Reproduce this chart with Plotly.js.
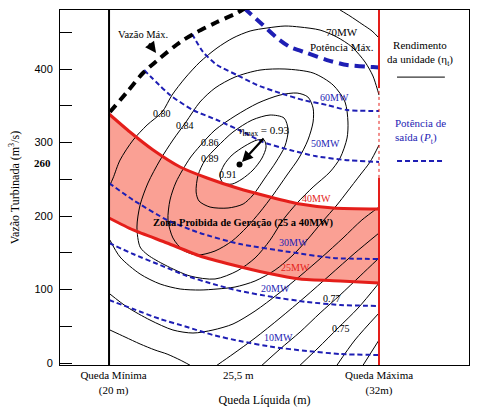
<!DOCTYPE html>
<html><head><meta charset="utf-8">
<script src="https://cdn.plot.ly/plotly-3.0.1.min.js"></script>
<style>html,body{margin:0;padding:0;background:#fff}#chart{width:480px;height:414px}</style>
</head><body><div id="chart"></div>
<script>
// ---- operating limits (head, m) ----
var headLimits = [20, 32];
var headTickVals = [20.2, 25.75, 32];
var headTickText = ['Queda Mínima<br>(20 m)', '25,5 m', 'Queda Máxima<br>(32m)'];
var flowTickVals = [0, 100, 200, 300, 400];
var flowTickText = ['0', '100', '200', '300', '400'];

// ---- maximum flow curve ----
var vmaxX = [20.04, 20.80, 21.51, 22.27, 23.16, 23.91, 24.80, 25.69, 26.0];
var vmaxY = [341.5, 368.7, 394.6, 415.0, 436.7, 450.3, 463.9, 476.2, 482.0];

// ---- output power curves (MW) ----
var p70X = [26.0, 26.84, 27.47, 28.04, 28.80, 29.69, 30.58, 31.73, 32.0];
var p70Y = [483.0, 459.9, 442.2, 429.9, 421.8, 412.2, 405.4, 402.7, 402.0];
var p60X = [23.69, 24.18, 24.80, 25.69, 26.58, 27.60, 28.62, 29.69, 30.58, 32.0];
var p60Y = [447.6, 423.1, 405.4, 391.8, 378.2, 367.3, 357.8, 351.0, 344.2, 342.9];
var p50X = [21.56, 22.71, 23.73, 24.80, 25.96, 26.84, 28.04, 29.16, 30.49, 32.0];
var p50Y = [398.6, 364.6, 344.2, 330.6, 314.3, 300.7, 289.8, 281.6, 276.2, 273.5];
var p40X = [20.0, 20.93, 21.96, 23.16, 24.36, 25.69, 27.16, 28.49, 29.96, 32.0];
var p40Y = [338.8, 314.3, 289.8, 266.7, 251.7, 238.1, 225.9, 216.3, 210.9, 209.5];
var p30X = [20.0, 21.07, 22.58, 24.04, 25.82, 28.04, 29.96, 32.0];
var p30Y = [244.9, 221.8, 194.6, 176.9, 161.9, 151.0, 142.9, 141.5];
var p25X = [20.0, 21.07, 22.58, 24.04, 25.51, 27.02, 28.49, 30.27, 32.0];
var p25Y = [197.3, 181.0, 163.3, 145.6, 133.3, 122.4, 114.3, 111.6, 108.8];
var p20X = [20.0, 21.07, 22.27, 23.47, 24.62, 25.82, 27.29, 28.80, 30.27, 32.0];
var p20Y = [163.3, 148.3, 133.3, 118.4, 107.5, 98.0, 89.8, 83.0, 78.9, 77.6];
var p10X = [20.0, 21.07, 22.27, 23.47, 24.62, 25.82, 27.29, 28.80, 30.27, 32.0];
var p10Y = [85.7, 73.5, 59.9, 49.0, 38.1, 29.9, 21.8, 16.3, 12.2, 10.9];

// ---- efficiency contours ----
var e91X = [25.07, 24.93, 25.11, 25.47, 26.04, 26.58, 26.89, 26.98, 26.80, 26.40, 25.91, 25.47, 25.07];
var e91Y = [244.9, 254.4, 269.4, 283.0, 295.3, 303.4, 303.4, 293.9, 278.9, 262.6, 250.3, 243.5, 244.9];
var e89X = [23.87, 23.96, 24.27, 24.80, 25.51, 26.36, 27.16, 27.78, 27.96, 27.82, 27.42, 26.93, 26.40, 25.96, 25.29, 24.49, 24.00, 23.87];
var e89Y = [232.7, 255.8, 276.2, 293.9, 314.3, 330.6, 337.4, 333.3, 317.0, 295.3, 273.5, 251.7, 228.6, 216.3, 210.9, 212.2, 220.4, 232.7];
var e86X = [23.60, 24.04, 24.71, 25.60, 26.62, 27.60, 28.36, 28.84, 29.07, 29.07, 28.84, 28.44, 27.91, 27.29, 26.71, 26.13, 25.47, 24.71, 23.91, 23.29, 22.84, 22.62, 22.71, 22.98, 23.60];
var e86Y = [278.9, 295.3, 317.0, 336.1, 353.7, 364.6, 367.3, 361.9, 346.9, 327.9, 303.4, 278.9, 255.8, 228.6, 205.4, 185.0, 166.0, 152.4, 146.9, 153.7, 170.1, 194.6, 221.8, 246.3, 278.9];
var e84X = [21.38, 21.24, 21.38, 21.73, 22.27, 22.84, 23.42, 24.04, 24.71, 25.60, 26.71, 27.82, 29.07, 29.96, 30.49, 30.62, 30.58, 30.27, 29.82, 29.07, 28.36, 27.73, 27.16, 26.49, 25.69, 24.71, 23.60, 22.49, 21.73, 21.38];
var e84Y = [157.8, 185.0, 215.0, 244.9, 276.2, 303.4, 327.9, 355.1, 374.1, 389.1, 398.6, 400.0, 394.6, 378.2, 355.1, 327.9, 306.1, 278.9, 259.9, 239.5, 217.7, 194.6, 167.3, 142.9, 125.2, 114.3, 118.4, 133.3, 146.9, 157.8];
var e80aX = [20.00, 20.18, 20.49, 21.07, 21.69, 22.36, 22.80, 23.38, 24.04, 24.80, 25.51, 26.27, 27.02, 27.82, 28.49, 29.38, 30.13, 30.80, 31.38, 31.73, 31.91, 32.0];
var e80aY = [239.5, 251.7, 276.2, 303.4, 323.8, 341.5, 364.6, 387.7, 409.5, 428.6, 442.2, 451.7, 455.8, 458.5, 457.1, 453.0, 443.5, 429.9, 409.5, 390.5, 374.1, 364.6];
var e80bX = [32.0, 31.60, 31.16, 30.58, 30.13, 29.47, 28.80, 28.13, 27.38, 26.49, 25.60, 24.80, 24.04, 23.16, 22.27, 21.38, 20.49, 20.04];
var e80bY = [296.6, 273.5, 255.8, 232.7, 215.0, 191.8, 167.3, 145.6, 126.5, 111.6, 103.4, 100.7, 99.3, 100.7, 107.5, 121.1, 144.2, 167.3];
var eU2X = [20.04, 20.80, 21.82, 22.84, 23.73, 24.62, 25.51, 26.49, 27.51, 28.49, 29.47, 30.40, 31.24, 32.0];
var eU2Y = [93.9, 76.2, 58.5, 44.9, 40.8, 44.9, 53.1, 70.7, 93.9, 118.4, 144.2, 170.1, 194.6, 212.2];
var eU3X = [20.04, 20.71, 21.38, 22.04, 22.58, 23.16, 23.60];
var eU3Y = [44.9, 35.4, 25.9, 17.7, 12.2, 4.1, -3];
var eU4X = [24.80, 25.51, 26.49, 27.60, 28.71, 29.82, 30.93, 32.0];
var eU4Y = [-3, 12.2, 34.0, 61.2, 89.8, 119.7, 149.7, 176.9];
var e77X = [26.80, 27.60, 28.49, 29.38, 30.27, 31.16, 32.0];
var e77Y = [-3, 19.0, 42.2, 68.0, 92.5, 118.4, 142.9];
var e75X = [28.49, 29.29, 30.18, 31.07, 32.0];
var e75Y = [-3, 20.4, 47.6, 74.8, 108.8];
var e73X = [30.13, 30.93, 32.0];
var e73Y = [-3, 31.3, 68.0];
var e71X = [31.29, 32.0];
var e71Y = [-3, 31.3];
var eTopX = [30.27, 30.71, 31.24, 31.69, 32.0];
var eTopY = [480.3, 472.1, 461.2, 451.7, 442.2];

// best efficiency point
var bepHead = [25.8];
var bepFlow = [270];

var BLUE = '#1e1eb4', RED = '#e41e1a', PINK = 'rgb(250,160,148)';
var SERIF = 'Liberation Serif, Times New Roman, serif';

var traces = [];
traces.push({x: p40X.concat(p25X.slice().reverse()), y: p40Y.concat(p25Y.slice().reverse()),
  mode: 'lines', fill: 'toself', fillcolor: PINK, line: {width: 0}, hoverinfo: 'skip'});

var contours = [[e91X,e91Y],[e89X,e89Y],[e86X,e86Y],[e84X,e84Y],[e80aX,e80aY],[e80bX,e80bY],
  [eU2X,eU2Y],[eU3X,eU3Y],[eU4X,eU4Y],[e77X,e77Y],[e75X,e75Y],[e73X,e73Y],[e71X,e71Y],[eTopX,eTopY]];
contours.forEach(function(c){
  traces.push({x: c[0], y: c[1], mode: 'lines', line: {color: '#000', width: 1, shape: 'spline', smoothing: 0.8}, hoverinfo: 'skip'});
});
[[p60X,p60Y],[p50X,p50Y],[p30X,p30Y],[p20X,p20Y],[p10X,p10Y]].forEach(function(c){
  traces.push({x: c[0], y: c[1], mode: 'lines', line: {color: BLUE, width: 2, dash: '5px,3px', shape: 'spline', smoothing: 0.6}, hoverinfo: 'skip'});
});
traces.push({x: p70X, y: p70Y, mode: 'lines', line: {color: BLUE, width: 4, dash: '10px,6px', shape: 'spline', smoothing: 0.6}});
traces.push({x: vmaxX, y: vmaxY, mode: 'lines', line: {color: '#000', width: 4, dash: '9px,6px', shape: 'spline', smoothing: 0.6}});
traces.push({x: p40X, y: p40Y, mode: 'lines', line: {color: RED, width: 3, shape: 'spline', smoothing: 0.6}});
traces.push({x: p25X, y: p25Y, mode: 'lines', line: {color: RED, width: 3, shape: 'spline', smoothing: 0.6}});
traces.push({x: bepHead, y: bepFlow, mode: 'markers', marker: {color: '#000', size: 6}});

function ann(x, y, t, opt) {
  var a = {x: x, y: y, text: t, showarrow: false, xanchor: 'center', yanchor: 'middle',
           font: {family: SERIF, size: 10, color: '#000'}};
  for (var k in opt) { if (k === 'font') { for (var f in opt.font) a.font[f] = opt.font[f]; } else a[k] = opt[k]; }
  return a;
}
var annotations = [
  ann(21.51, 447.6, 'Vazão Máx.', {font: {size: 10.5}}),
  {x: 22.09, y: 421.8, ax: -8, ay: -11, text: '', showarrow: true, arrowhead: 2, arrowsize: 1, arrowwidth: 2.2, arrowcolor: '#000'},
  ann(30.36, 450.3, '70MW', {font: {size: 11}}),
  ann(30.36, 429.9, 'Potência Máx.', {font: {size: 11}}),
  ann(30.0, 361.9, '60MW', {font: {color: BLUE}}),
  ann(29.6, 299.3, '50MW', {font: {color: BLUE}}),
  ann(29.2, 224.5, '40MW', {font: {color: RED}}),
  ann(28.18, 163.3, '30MW', {font: {color: BLUE}}),
  ann(28.27, 129.3, '25MW', {font: {color: RED}}),
  ann(27.38, 102.0, '20MW', {font: {color: BLUE}}),
  ann(27.51, 35.4, '10MW', {font: {color: BLUE}}),
  ann(22.36, 340.1, '0.80'),
  ann(23.38, 323.8, '0.84'),
  ann(24.49, 300.7, '0.86'),
  ann(24.49, 278.9, '0.89'),
  ann(25.29, 257.1, '0.91'),
  ann(29.91, 88.4, '0.77'),
  ann(30.31, 47.6, '0.75'),
  ann(26.89, 315.6, 'η<sub>max</sub> = 0.93', {font: {size: 11}}),
  {x: 25.91, y: 273.5, ax: 23, ay: -25, text: '', showarrow: true, arrowhead: 2, arrowsize: 1, arrowwidth: 2.2, arrowcolor: '#000'},
  ann(25.96, 190.5, '<b>Zona Proibida de Geração (25 a 40MW)</b>', {font: {size: 10.5}}),
  ann(-0.017, 272.1, '<b>260</b>', {xref: 'paper', xanchor: 'right', font: {size: 11}}),
  ann(0.880, 0.877, 'Rendimento<br>da unidade (η<sub>t</sub>)', {xref: 'paper', yref: 'paper', align: 'center', font: {size: 11}}),
  ann(0.814, 0.659, 'Potência de<br>saída (<i>P</i><sub>t</sub>)', {xref: 'paper', yref: 'paper', xanchor: 'left', align: 'left', font: {size: 11, color: BLUE}})
];

var shapes = [
  {type: 'line', xref: 'x', yref: 'paper', x0: headLimits[0], x1: headLimits[0], y0: 0, y1: 1, line: {color: '#000', width: 2}},
  {type: 'line', xref: 'x', yref: 'paper', x0: headLimits[1], x1: headLimits[1], y0: 0.78, y1: 1, line: {color: RED, width: 2}},
  {type: 'line', xref: 'x', yref: 'paper', x0: headLimits[1], x1: headLimits[1], y0: 0.527, y1: 0.78, line: {color: RED, width: 1, dash: 'dot'}},
  {type: 'line', xref: 'x', yref: 'paper', x0: headLimits[1], x1: headLimits[1], y0: 0, y1: 0.527, line: {color: RED, width: 2}},
  {type: 'line', xref: 'paper', yref: 'paper', x0: 0.824, x1: 0.941, y0: 0.811, y1: 0.811, line: {color: '#000', width: 1}},
  {type: 'line', xref: 'paper', yref: 'paper', x0: 0.824, x1: 0.939, y0: 0.575, y1: 0.575, line: {color: BLUE, width: 2, dash: '5px,3px'}}
];

var layout = {
  width: 480, height: 414,
  margin: {l: 60, r: 11, t: 10, b: 49},
  paper_bgcolor: '#fff', plot_bgcolor: '#fff',
  showlegend: false,
  font: {family: SERIF, size: 11, color: '#000'},
  xaxis: {range: [17.82, 36.0], showgrid: false, zeroline: false, showline: true, mirror: true, linecolor: '#000', linewidth: 1,
    ticks: '', tickvals: headTickVals, ticktext: headTickText, tickfont: {family: SERIF, size: 11},
    title: {text: 'Queda Líquida (m)', font: {family: SERIF, size: 12}, standoff: 0}},
  yaxis: {range: [-2.7, 480.3], showgrid: false, zeroline: false, showline: true, mirror: true, linecolor: '#000', linewidth: 1,
    ticks: 'inside', ticklen: 12, tickcolor: '#000', tickwidth: 1, tickvals: flowTickVals, ticktext: flowTickText,
    minor: {dtick: 50, tick0: 0, ticks: 'inside', ticklen: 12, tickcolor: '#000', tickwidth: 1, showgrid: false},
    tickfont: {family: 'Liberation Sans, Arial, sans-serif', size: 11}, ticklabelstandoff: 4,
    title: {text: 'Vazão Turbinada (m<sup>3</sup>/s)', font: {family: SERIF, size: 12}, standoff: 12}},
  annotations: annotations,
  shapes: shapes
};
Plotly.newPlot('chart', traces, layout, {displayModeBar: false, staticPlot: true});
</script></body></html>
